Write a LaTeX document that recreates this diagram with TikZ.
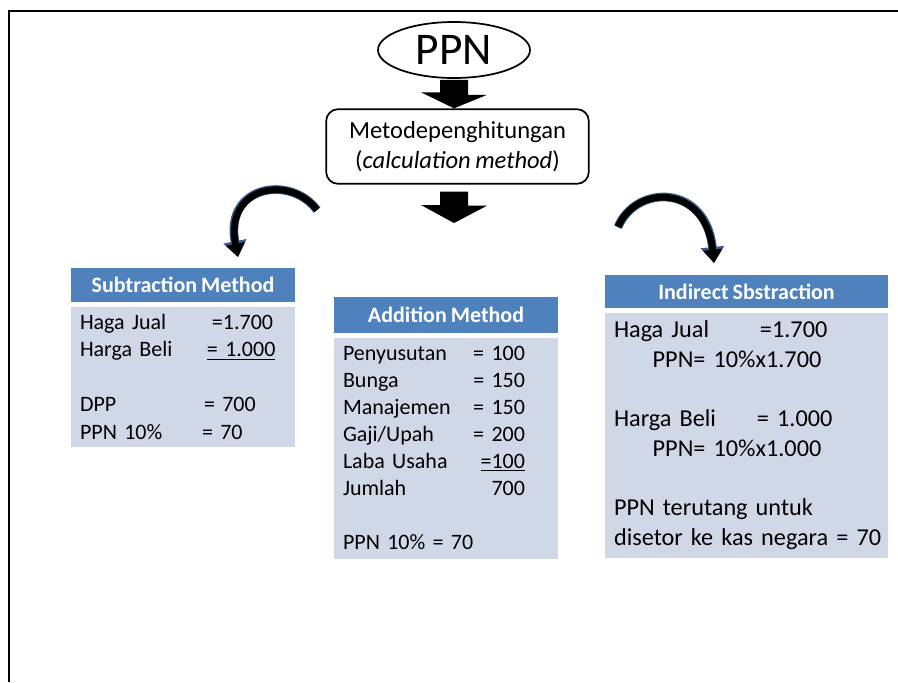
\documentclass[tikz,border=0pt]{standalone}
\usepackage{fontspec}
\setmainfont{Carlito}[WordSpace=0.8]
\usepackage{tikz}
\usetikzlibrary{arrows.meta,positioning,calc,shapes.geometric}
\definecolor{headblue}{HTML}{4F81BD}
\definecolor{bodyblue}{HTML}{D0D8E8}
\definecolor{arrowblue}{HTML}{385D8A}
\newcommand{\addrow}[2]{\makebox[136.5pt][s]{#1\hfill #2}}

\begin{document}
\begin{tikzpicture}[x=0.75pt,y=-0.75pt,
  head/.style={fill=headblue,text=white,font=\fontsize{16.5}{20}\selectfont\bfseries,inner sep=0pt},
  body/.style={fill=bodyblue,align=left,inner xsep=6.75pt,inner ysep=0pt},
  blockarr/.style={fill=black},
  curvarr/.style={line width=5pt,-{Triangle[length=10pt,width=14pt]},
    preaction={draw=arrowblue,line width=6.5pt,-{Triangle[length=12pt,width=17pt]}}}]
  \useasboundingbox (0,0) rectangle (898,682);
  \draw[line width=1.5pt] (9,682) -- (9,11) -- (898,11);
  \node[ellipse,draw,line width=1.3pt,minimum width=114pt,minimum height=42pt,inner sep=0pt,font=\fontsize{34}{34}\selectfont] (ppn) at (454,50) {PPN};
  \node[draw,rounded corners=9pt,line width=1.3pt,minimum width=197pt,minimum height=56pt,align=center,font=\fontsize{18.4}{22.5}\selectfont] (metode) at (457.5,146.5) {Metodepenghitungan\\(\textit{calculation method})};
  \coordinate (split) at (454,223);
  \fill[blockarr] ($(ppn.south)+(-14,1)$) -- ++(28,0) -- ++(0,15) -- ++(19,0) -- (ppn.south |- metode.north) -- ++(-33,-16) -- ++(19,0) -- cycle;
  \fill[blockarr] ($(metode.south -| split)+(-14,7)$) -- ++(28,0) -- ++(0,14) -- ++(19,0) -- (split) -- ++(-33,-18) -- ++(19,0) -- cycle;
  \node[head,minimum width=168pt,minimum height=26pt] (subhead) at (183,285) {Subtraction Method};
  \node[body,text width=154.5pt,minimum height=105pt,below=3pt of subhead,font=\fontsize{16.5}{20.6}\selectfont] (subbody) {%
    \makebox[99pt][l]{Haga Jual}=1.700\\
    \makebox[95.25pt][l]{Harga Beli}\underline{= 1.000}\\
    \mbox{}\\
    \makebox[93pt][l]{DPP}= 700\\
    \makebox[91.5pt][l]{PPN 10\%}= 70};
  \node[head,minimum width=168pt,minimum height=27pt] (addhead) at (446,315) {Addition Method};
  \node[body,text width=154.5pt,minimum height=165.75pt,below=3pt of addhead,font=\fontsize{16.5}{20.25}\selectfont] (addbody) {%
    \addrow{Penyusutan}{= 100}\\
    \addrow{Bunga}{= 150}\\
    \addrow{Manajemen}{= 150}\\
    \addrow{Gaji/Upah}{= 200}\\
    \addrow{Laba Usaha}{\underline{=100}}\\
    \addrow{Jumlah}{700}\\
    \mbox{}\\
    PPN 10\% = 70};
  \node[head,minimum width=212.25pt,minimum height=25pt] (indhead) at (746.5,291.5) {Indirect Sbstraction};
  \node[body,text width=198.75pt,minimum height=183.75pt,below=3pt of indhead,font=\fontsize{18.2}{22.2}\selectfont] (indbody) {%
    \makebox[109.5pt][l]{Haga Jual}=1.700\\
    \hspace*{29pt}PPN= 10\%x1.700\\
    \mbox{}\\
    \makebox[107.25pt][l]{Harga Beli}= 1.000\\
    \hspace*{29pt}PPN= 10\%x1.000\\
    \mbox{}\\
    PPN terutang untuk\\
    \mbox{disetor ke kas negara = 70}};
  \coordinate (ltail) at (317,210);
  \coordinate (lhead) at (238,257);
  \draw[curvarr] (ltail) .. controls (290,174) and (224,186) .. (lhead);
  \coordinate (rtail) at (618,227);
  \coordinate (rhead) at (714,263);
  \draw[curvarr] (rtail) .. controls (636,184) and (706,184) .. (rhead);
\end{tikzpicture}
\end{document}
